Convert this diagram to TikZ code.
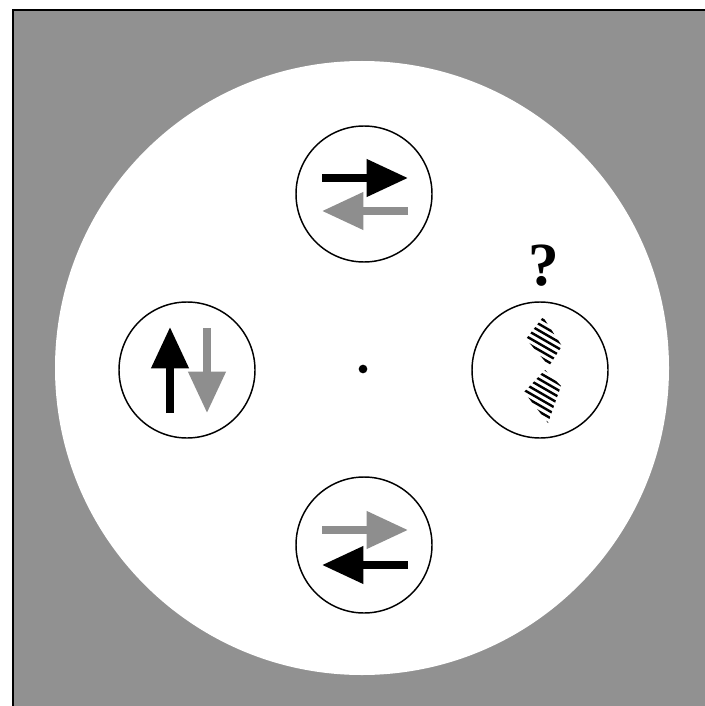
\documentclass[tikz,border=0pt]{standalone}
\usepackage{fontspec}
\setmainfont{Liberation Serif}
\usetikzlibrary{arrows.meta}
\definecolor{framegray}{RGB}{145,145,145}
\definecolor{spingray}{RGB}{142,142,142}
\tikzset{every picture/.style={line width=0.75pt},
  spin circle/.style={draw, circle, minimum size=102pt, inner sep=0pt, line width=1.1pt},
  spin/.style={line width=5.5pt, -{Triangle[length=31pt,width=27pt]}},
  hatch line/.style={line width=1.8pt}}

\begin{document}
\begin{tikzpicture}[x=0.75pt,y=0.75pt,yscale=-1,xscale=1]
\useasboundingbox (0,0) rectangle (705,706);

%Shape: Frame
\draw [line width=2pt, fill=framegray] (13,10) rectangle (720,720);
%Shape: Circle
\fill [white] (362,368) circle (307);

%Shape: Circles
\node [spin circle] (top) at (364,194) {};
\node [spin circle] (left) at (187,370) {};
\node [spin circle] (right) at (540,370) {};
\node [spin circle] (bottom) at (364,545) {};
\node [circle, fill, inner sep=0pt, minimum size=6.5pt] (centre) at (363,369) {};

%Arrows top
\draw [spin] ([shift={(-42,-16)}]top.center) -- ([shift={(44,-16)}]top.center);
\draw [spin, spingray] ([shift={(44,17)}]top.center) -- ([shift={(-42,17)}]top.center);
%Arrows bottom
\draw [spin, spingray] ([shift={(-42,-15)}]bottom.center) -- ([shift={(44,-15)}]bottom.center);
\draw [spin] ([shift={(44,20)}]bottom.center) -- ([shift={(-42,20)}]bottom.center);
%Arrows left
\draw [spin] ([shift={(-17,43)}]left.center) -- ([shift={(-17,-43)}]left.center);
\draw [spin, spingray] ([shift={(20,-42)}]left.center) -- ([shift={(20,43)}]left.center);

%Hatched shapes
\begin{scope}
\clip ([shift={(3,-53)}]right.center) -- ([shift={(22,-24)}]right.center) -- ([shift={(9,-4)}]right.center) -- ([shift={(-14,-31)}]right.center) -- cycle;
\foreach \i in {0,...,14} \draw [hatch line] (505,285+6.5*\i) -- (585,331+6.5*\i);
\end{scope}
\begin{scope}
\clip ([shift={(5,0)}]right.center) -- ([shift={(21,16)}]right.center) -- ([shift={(8,53)}]right.center) -- ([shift={(-16,22)}]right.center) -- cycle;
\foreach \i in {0,...,16} \draw [hatch line] (505,340+6.5*\i) -- (585,386+6.5*\i);
\end{scope}

% Text Node
\node [anchor=base, inner sep=0pt, font=\fontsize{46}{46}\selectfont\bfseries] (qmark) at (544,285) {?};

\end{tikzpicture}
\end{document}
